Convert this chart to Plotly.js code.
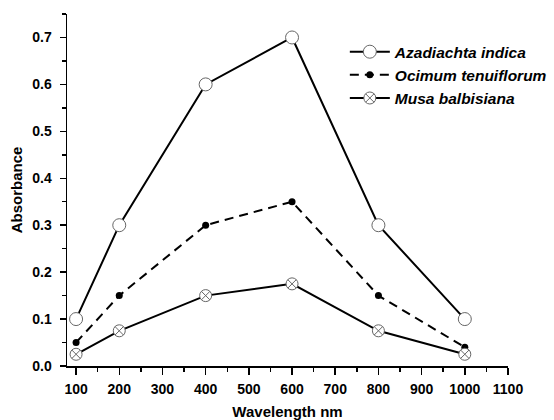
<!DOCTYPE html>
<html><head><meta charset="utf-8">
<script src="https://cdn.plot.ly/plotly-3.0.1.min.js"></script>
<style>html,body{margin:0;padding:0;background:#fff}#c{width:554px;height:420px}</style>
</head><body><div id="c"></div>
<script>
const wavelength = [100, 200, 400, 600, 800, 1000];
const azadiachta = [0.1, 0.3, 0.6, 0.7, 0.3, 0.1];
const ocimum = [0.05, 0.15, 0.3, 0.35, 0.15, 0.04];
const musa = [0.025, 0.075, 0.15, 0.175, 0.075, 0.025];
const names = ['Azadiachta indica', 'Ocimum tenuiflorum', 'Musa balbisiana'];
const xTicks = [100, 200, 300, 400, 500, 600, 700, 800, 900, 1000, 1100];
const yTicks = [0, 0.1, 0.2, 0.3, 0.4, 0.5, 0.6, 0.7];
const yTickText = ['0.0', '0.1', '0.2', '0.3', '0.4', '0.5', '0.6', '0.7'];

const traces = [
  {x: wavelength, y: azadiachta, name: '<b><i>' + names[0] + '</i></b>', mode: 'lines+markers',
   line: {color: '#000', width: 2}, marker: {symbol: 'circle', size: 13, color: '#fff', line: {color: '#666', width: 1}}},
  {x: wavelength, y: ocimum, name: '<b><i>' + names[1] + '</i></b>', mode: 'lines+markers',
   line: {color: '#000', width: 2, dash: '9px,6px'}, marker: {symbol: 'circle', size: 7, color: '#000'}},
  {x: wavelength, y: musa, name: '<b><i>' + names[2] + '</i></b>', mode: 'lines+markers',
   line: {color: '#000', width: 2}, marker: {symbol: 'circle-x', size: 12, color: '#fff', line: {color: '#666', width: 1}}}
];

const layout = {
  width: 554, height: 420,
  margin: {l: 67, r: 46, t: 13.5, b: 54, autoexpand: false},
  paper_bgcolor: '#fff', plot_bgcolor: '#fff',
  font: {family: 'Liberation Sans, Arial, sans-serif', color: '#000'},
  showlegend: true,
  legend: {x: 0.63, y: 0.94, xanchor: 'left', yanchor: 'top', bgcolor: 'rgba(0,0,0,0)',
           font: {size: 15.5, color: '#000'}, tracegroupgap: 0, itemwidth: 40},
  xaxis: {
    range: [79, 1100], tickmode: 'array', tickvals: xTicks, automargin: false,
    showline: true, linecolor: '#000', linewidth: 1.5, zeroline: false, showgrid: false,
    ticks: 'outside', ticklen: 7, tickwidth: 1.5, tickcolor: '#000', ticklabelstandoff: 3,
    minor: {dtick: 50, tick0: 50, ticks: 'outside', ticklen: 4, tickwidth: 1.5, tickcolor: '#000', showgrid: false},
    tickfont: {size: 14, weight: 'bold'},
    title: {text: '<b>Wavelength nm</b>', font: {size: 15}, standoff: 14}
  },
  yaxis: {
    range: [0, 0.75], tickmode: 'array', tickvals: yTicks, ticktext: yTickText, automargin: false,
    showline: true, linecolor: '#000', linewidth: 1.5, zeroline: false, showgrid: false,
    ticks: 'outside', ticklen: 6, tickwidth: 1.5, tickcolor: '#000', ticklabelstandoff: 5,
    minor: {dtick: 0.05, tick0: 0, ticks: 'outside', ticklen: 4, tickwidth: 1.5, tickcolor: '#000', showgrid: false},
    tickfont: {size: 14, weight: 'bold'},
    title: {text: '<b>Absorbance</b>', font: {size: 15}, standoff: 6}
  }
};
Plotly.newPlot('c', traces, layout, {staticPlot: true, displayModeBar: false});
</script></body></html>
